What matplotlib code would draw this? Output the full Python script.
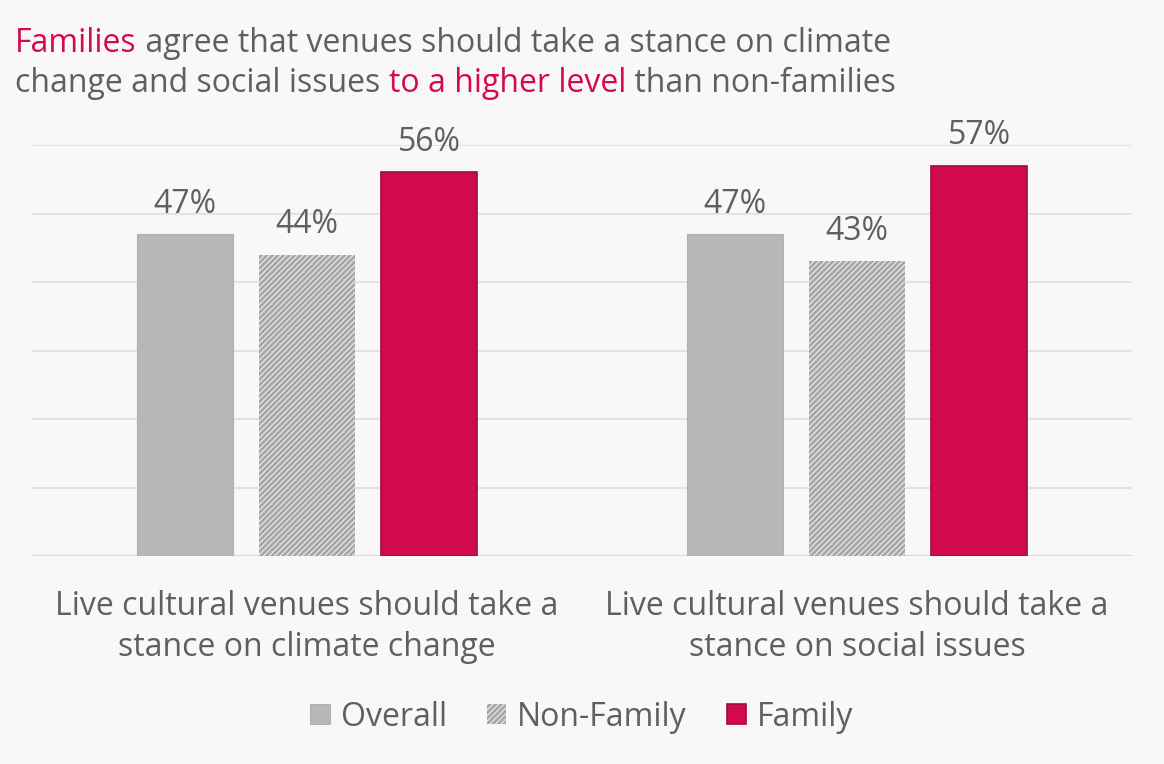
import numpy as np
import matplotlib.pyplot as plt

categories = ['Live cultural venues should take a\nstance on climate change',
              'Live cultural venues should take a\nstance on social issues']
series_names = ['Overall', 'Non-Family', 'Family']
overall = [47, 47]
non_family = [44, 43]
family = [56, 57]

BG = '#f9f8f7'
GREY_TXT = '#5f5f5f'
CRIMSON = '#d20a50'
FS = 23

plt.rcParams['font.family'] = ['Open Sans', 'DejaVu Sans']
plt.rcParams['hatch.linewidth'] = 2.2
plt.rcParams['hatch.color'] = '#a8a8a8'

fig = plt.figure(figsize=(11.64, 7.64), dpi=100, facecolor=BG)
ax = fig.add_axes([32 / 1164, (764 - 556) / 764, 1100 / 1164, (556 - 145) / 764])
ax.set_facecolor(BG)

x = np.arange(len(categories))
w = 0.175
off = 0.222

b1 = ax.bar(x - off, overall, w, color='#b7b7b7', edgecolor='#b0b0b0', linewidth=0.8,
            label=series_names[0], zorder=3)
b2 = ax.bar(x, non_family, w, color='white', edgecolor='#a8a8a8', hatch='//////',
            linewidth=0, label=series_names[1], zorder=3)
b3 = ax.bar(x + off, family, w, color=CRIMSON, edgecolor='#9e0c3c', linewidth=1.2,
            label=series_names[2], zorder=3)

for bars, vals in [(b1, overall), (b2, non_family), (b3, family)]:
    for bar, v in zip(bars, vals):
        ax.annotate(f'{v}%', (bar.get_x() + bar.get_width() / 2, v),
                    xytext=(0, 15.5), textcoords='offset points', ha='center', va='baseline',
                    fontsize=FS, color=GREY_TXT)

ax.set_xlim(-0.5, 1.5)
ax.set_ylim(0, 60)
ax.set_yticks(np.arange(0, 61, 10))
ax.yaxis.grid(True, color='#e4e3e2', linewidth=1.5, zorder=0)
ax.tick_params(left=False, bottom=False, labelleft=False, labelbottom=False)
for s in ax.spines.values():
    s.set_visible(False)
ax.axhline(0, color='#dcdbda', linewidth=1.5, zorder=2)

for xi, c in zip(x, categories):
    ax.text(xi, -0.082, c, transform=ax.get_xaxis_transform(), ha='center', va='top',
            fontsize=FS, color=GREY_TXT, linespacing=1.32)

# title in mixed colours, pieces placed one after another
pieces1 = [('Families', CRIMSON), (' agree that venues should take a stance on climate', GREY_TXT)]
pieces2 = [('change and social issues ', GREY_TXT), ('to a higher level', CRIMSON),
           (' than non-families', GREY_TXT)]

fig.canvas.draw()
r = fig.canvas.get_renderer()
for pieces, y in [(pieces1, 1 - 52 / 764), (pieces2, 1 - 92 / 764)]:
    xpos = 15 / 1164
    for s, col in pieces:
        t = fig.text(xpos, y, s, color=col, fontsize=FS, ha='left', va='baseline')
        bb = t.get_window_extent(renderer=r)
        xpos = bb.x1 / fig.bbox.width

leg = ax.legend(loc='center', bbox_to_anchor=(0.5, -0.392), ncol=3, frameon=False,
                fontsize=FS, handlelength=0.6, handleheight=0.6, handletextpad=0.35,
                columnspacing=1.25, labelcolor=GREY_TXT)

fig.savefig('out.png', dpi=100, facecolor=BG)
